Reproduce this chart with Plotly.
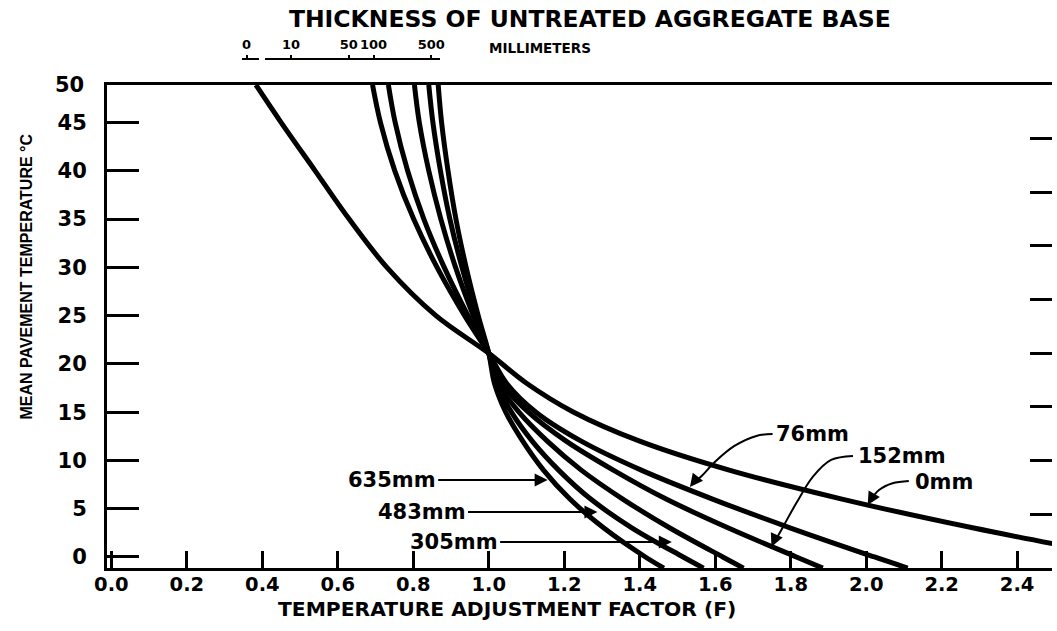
import plotly.graph_objects as go

# Mean pavement temperature (deg C) at which each curve is read
temperature_c = [48.9, 45, 40, 35, 30, 25, 21.1, 18, 15, 12, 9, 6, 3, 0, -1.15]

# Temperature adjustment factor F for each untreated aggregate base thickness
f_0mm = [0.383, 0.450, 0.540, 0.630, 0.730, 0.860, 1.0, 1.100, 1.225, 1.400, 1.637, 1.936, 2.285, 2.677, 2.830]
f_76mm = [0.692, 0.713, 0.751, 0.801, 0.863, 0.936, 1.0, 1.047, 1.125, 1.245, 1.404, 1.593, 1.800, 2.022, 2.110]
f_152mm = [0.734, 0.752, 0.785, 0.828, 0.882, 0.945, 1.0, 1.035, 1.105, 1.205, 1.330, 1.470, 1.635, 1.815, 1.885]
f_305mm = [0.803, 0.816, 0.841, 0.873, 0.912, 0.959, 1.0, 1.025, 1.080, 1.155, 1.245, 1.355, 1.480, 1.620, 1.675]
f_483mm = [0.841, 0.852, 0.872, 0.897, 0.929, 0.967, 1.0, 1.020, 1.060, 1.115, 1.185, 1.270, 1.380, 1.515, 1.569]
f_635mm = [0.866, 0.875, 0.892, 0.913, 0.940, 0.972, 1.0, 1.015, 1.045, 1.090, 1.145, 1.215, 1.305, 1.415, 1.464]

base_labels = ["0mm", "76mm", "152mm", "305mm", "483mm", "635mm"]
base_curves = [f_0mm, f_76mm, f_152mm, f_305mm, f_483mm, f_635mm]

# Axis ticks
x_ticks = [0.0, 0.2, 0.4, 0.6, 0.8, 1.0, 1.2, 1.4, 1.6, 1.8, 2.0, 2.2, 2.4]
x_tick_labels = ["0.0", "0.2", "0.4", "0.6", "0.8", "1.0", "1.2", "1.4", "1.6", "1.8", "2.0", "2.2", "2.4"]
y_ticks = [0, 5, 10, 15, 20, 25, 30, 35, 40, 45]
y_tick_labels = ["0", "5", "10", "15", "20", "25", "30", "35", "40", "45"]
y_top_label = "50"
fahrenheit_ticks = [40, 50, 60, 70, 80, 90, 100, 110]

# Thickness scale shown above the chart
thickness_ticks = [10, 50, 100, 500]
thickness_labels = ["10", "50", "100", "500"]

# ---------------------------------------------------------------- styling
FONT = "DejaVu Sans"
BLACK = "#000000"
T_MIN, T_MAX = -1.14, 48.889
F_MIN, F_MAX = -0.0116, 2.4924
MAIN_TOP = 0.9415


def to_f(t):
    return t * 1.8 + 32


fig = go.Figure()

for name, vals in zip(base_labels, base_curves):
    fig.add_trace(go.Scatter(
        x=vals, y=temperature_c, mode="lines", name=name,
        line=dict(color=BLACK, width=5, shape="spline", smoothing=1.0),
        showlegend=False, hoverinfo="skip",
    ))

# Curved leader lines for the right-hand labels (F, T pairs)
leaders = {
    "76mm": ([1.752, 1.709, 1.651, 1.599, 1.564, 1.540], [12.74, 12.54, 11.50, 9.84, 8.39, 7.6]),
    "152mm": ([1.965, 1.907, 1.859, 1.815, 1.780, 1.758], [10.46, 10.05, 8.32, 5.59, 3.14, 1.6]),
    "0mm": ([2.113, 2.070, 2.034, 2.012], [7.87, 7.64, 6.94, 5.9]),
}
for key, (lx, ly) in leaders.items():
    fig.add_trace(go.Scatter(
        x=lx, y=ly, mode="lines", showlegend=False, hoverinfo="skip",
        line=dict(color=BLACK, width=2, shape="spline", smoothing=1.0),
    ))

# empty traces that bring the extra axes into existence
fig.add_trace(go.Scatter(x=[], y=[], xaxis="x", yaxis="y2", showlegend=False))
fig.add_trace(go.Scatter(x=[], y=[], xaxis="x3", yaxis="y3", showlegend=False))
fig.add_trace(go.Scatter(x=[], y=[], xaxis="x4", yaxis="y3", showlegend=False))

bold = dict(family=FONT, color=BLACK, weight="bold")

annotations = []

# straight-arrow labels on the left
for text, tail_f, tip_f, t in [("635mm", 0.866, 1.156, 7.98),
                               ("483mm", 0.945, 1.288, 4.66),
                               ("305mm", 1.030, 1.485, 1.55)]:
    annotations.append(dict(
        text=text, x=tip_f, y=t, xref="x", yref="y",
        ax=tail_f, ay=t, axref="x", ayref="y",
        xanchor="right", yanchor="middle",
        showarrow=True, arrowhead=2, arrowsize=1.3, arrowwidth=2, arrowcolor=BLACK,
        font=dict(size=21, **bold),
    ))

# labels at the start of the curved leaders
for text, f, t in [("76mm", 1.757, 12.74), ("152mm", 1.973, 10.46), ("0mm", 2.123, 7.77)]:
    annotations.append(dict(
        text=text, x=f, y=t, xref="x", yref="y", xanchor="left", yanchor="middle",
        showarrow=False, font=dict(size=21, **bold),
    ))

# arrowheads at the end of the curved leaders
for tip_f, tip_t, tail_f, tail_t in [(1.533, 7.25, 1.548, 8.0),
                                     (1.749, 1.07, 1.762, 2.2),
                                     (2.004, 5.39, 2.016, 6.2)]:
    annotations.append(dict(
        text="", x=tip_f, y=tip_t, xref="x", yref="y",
        ax=tail_f, ay=tail_t, axref="x", ayref="y",
        showarrow=True, arrowhead=2, arrowsize=1.3, arrowwidth=2, arrowcolor=BLACK,
    ))

# top-of-scale temperature label
annotations.append(dict(
    text=y_top_label, x=-0.0221, y=T_MAX, xref="paper", yref="y",
    xanchor="right", yanchor="middle", showarrow=False, font=dict(size=21, **bold),
))

# axis titles
annotations.append(dict(
    text="TEMPERATURE ADJUSTMENT FACTOR (F)", x=0.423, y=-0.0795,
    xref="paper", yref="paper", xanchor="center", yanchor="middle",
    showarrow=False, font=dict(size=20.3, **bold),
))
annotations.append(dict(
    text="MEAN PAVEMENT TEMPERATURE °C", x=-0.0853, y=0.569,
    xref="paper", yref="paper", xanchor="center", yanchor="middle", textangle=-90,
    showarrow=False, font=dict(size=16, family="Liberation Sans, Arial", color=BLACK, weight="bold"),
))
annotations.append(dict(
    text="MILLIMETERS", x=0.4579, y=1.0146, xref="paper", yref="paper",
    xanchor="center", yanchor="middle", showarrow=False, font=dict(size=13.5, **bold),
))

fig.update_layout(
    width=1057, height=631,
    margin=dict(l=107, r=0, t=55, b=63, pad=0),
    paper_bgcolor="white", plot_bgcolor="white",
    title=dict(
        text="THICKNESS OF UNTREATED AGGREGATE BASE",
        x=0.558, xanchor="center", y=0.97, yanchor="middle", yref="container",
        font=dict(size=23.5, **bold),
    ),
    xaxis=dict(
        range=[F_MIN, F_MAX], domain=[0, 1], anchor="y",
        showline=True, linewidth=3, linecolor=BLACK, mirror=True,
        ticks="inside", ticklen=17, tickwidth=2.5, tickcolor=BLACK,
        tickvals=x_ticks, ticktext=x_tick_labels,
        tickfont=dict(size=19.5, **bold), ticklabelstandoff=-3,
        showgrid=False, zeroline=False,
    ),
    yaxis=dict(
        range=[T_MIN, T_MAX], domain=[0, MAIN_TOP], anchor="x",
        showline=True, linewidth=3, linecolor=BLACK,
        ticks="inside", ticklen=32, tickwidth=2.5, tickcolor=BLACK,
        tickvals=y_ticks, ticktext=y_tick_labels,
        tickfont=dict(size=21, **bold), ticklabelstandoff=13,
        showgrid=False, zeroline=False,
    ),
    yaxis2=dict(
        range=[to_f(T_MIN), to_f(T_MAX)], overlaying="y", side="right", anchor="x",
        showline=False, ticks="inside", ticklen=22, tickwidth=2.5, tickcolor=BLACK,
        tickvals=fahrenheit_ticks, showticklabels=False,
        showgrid=False, zeroline=False,
    ),
    yaxis3=dict(domain=[0.96, 0.9903], visible=False, range=[0, 1]),
    xaxis3=dict(
        type="log", range=[0.687, 2.807], domain=[0.1674, 0.3526],
        anchor="y3", side="top",
        showline=True, linewidth=2, linecolor=BLACK,
        ticks="outside", ticklen=3, tickwidth=1.5, tickcolor=BLACK,
        tickvals=thickness_ticks, ticktext=thickness_labels,
        tickfont=dict(size=13, **bold), ticklabelstandoff=1,
        showgrid=False, zeroline=False,
    ),
    xaxis4=dict(
        range=[0, 1], domain=[0.1432, 0.1611], anchor="y3", side="top",
        showline=True, linewidth=2, linecolor=BLACK,
        ticks="outside", ticklen=3, tickwidth=1.5, tickcolor=BLACK,
        tickvals=[0.25], ticktext=["0"],
        tickfont=dict(size=13, **bold), ticklabelstandoff=1,
        showgrid=False, zeroline=False,
    ),
    annotations=annotations,
    showlegend=False,
)

fig.write_html("out.html")
